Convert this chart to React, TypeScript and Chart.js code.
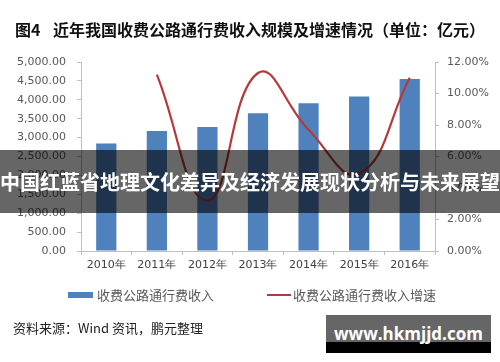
import React, { useEffect, useRef } from "react";
import { Chart, registerables } from "chart.js";

Chart.register(...registerables);

const categories = ["2010年", "2011年", "2012年", "2013年", "2014年", "2015年", "2016年"];
const revenue = [2845, 3173, 3280, 3644, 3910, 4088, 4548];
const growth: (number | null)[] = [null, 11.2, 3.2, 11.3, 7.7, 4.9, 11.0];
const leftTicks = [0, 500, 1000, 1500, 2000, 2500, 3000, 3500, 4000, 4500, 5000];
const rightTicks = [0, 2, 4, 6, 8, 10, 12];
const seriesNames = ["收费公路通行费收入", "收费公路通行费收入增速"];

const BAR_COLOR = "#4F81BD";
const LINE_COLOR = "#B5393A";
const AXIS_COLOR = "#BFBFBF";
const TICK_COLOR = "#595959";

export default function App() {
  const ref = useRef<HTMLCanvasElement | null>(null);

  useEffect(() => {
    if (!ref.current) return;
    const chart = new Chart(ref.current, {
      data: {
        labels: categories,
        datasets: [
          {
            type: "line",
            label: seriesNames[1],
            data: growth,
            yAxisID: "y1",
            borderColor: LINE_COLOR,
            borderWidth: 2.2,
            pointRadius: 0,
            tension: 0.45,
            fill: false,
            order: 0,
          },
          {
            type: "bar",
            label: seriesNames[0],
            data: revenue,
            yAxisID: "y",
            backgroundColor: BAR_COLOR,
            categoryPercentage: 1,
            barPercentage: 0.4,
            order: 1,
          },
        ],
      },
      options: {
        animation: false,
        responsive: false,
        maintainAspectRatio: false,
        layout: { padding: { top: 62, bottom: 81, left: 0, right: 0 } },
        plugins: { legend: { display: false }, tooltip: { enabled: false }, title: { display: false } },
        scales: {
          x: {
            type: "category",
            offset: true,
            grid: { display: true, drawOnChartArea: false, offset: true, tickLength: 4, color: AXIS_COLOR },
            border: { color: AXIS_COLOR },
            ticks: { color: "#404040", font: { family: "DejaVu Sans", size: 11 }, padding: 4, maxRotation: 0 },
            afterFit: (s: any) => { s.height = 30; },
          },
          y: {
            type: "linear",
            position: "left",
            min: 0,
            max: 5000,
            afterBuildTicks: (s: any) => { s.ticks = leftTicks.map((v) => ({ value: v })); },
            grid: { display: true, drawOnChartArea: false, tickLength: 4, color: AXIS_COLOR },
            border: { color: AXIS_COLOR },
            ticks: {
              color: TICK_COLOR,
              font: { family: "DejaVu Sans", size: 11 },
              padding: 11,
              callback: (v: any) => Number(v).toLocaleString("en-US", { minimumFractionDigits: 2, maximumFractionDigits: 2 }),
            },
            afterFit: (s: any) => { s.width = 81; },
          },
          y1: {
            type: "linear",
            position: "right",
            min: 0,
            max: 12,
            afterBuildTicks: (s: any) => { s.ticks = rightTicks.map((v) => ({ value: v })); },
            grid: { display: true, drawOnChartArea: false, tickLength: 4, color: AXIS_COLOR },
            border: { color: AXIS_COLOR },
            ticks: {
              color: TICK_COLOR,
              font: { family: "DejaVu Sans", size: 11 },
              padding: 8,
              callback: (v: any) => Number(v).toFixed(2) + "%",
            },
            afterFit: (s: any) => { s.width = 65; },
          },
        },
      },
    });
    return () => chart.destroy();
  }, []);

  const cjk = '"Noto Sans CJK SC", "Noto Sans", sans-serif';

  return (
    <div style={{ position: "absolute", left: 0, top: 0, width: 500, height: 362, background: "#fff", overflow: "hidden" }}>
      <canvas ref={ref} width={500} height={362} style={{ position: "absolute", left: 0, top: 0, width: 500, height: 362 }} />
      <div style={{ position: "absolute", left: 15, top: 18, fontFamily: cjk, fontWeight: 700, fontSize: 16, lineHeight: "22px", color: "#111", whiteSpace: "nowrap" }}>
        图4
      </div>
      <div style={{ position: "absolute", left: 53, top: 18, fontFamily: cjk, fontWeight: 700, fontSize: 16, lineHeight: "22px", color: "#111", whiteSpace: "nowrap" }}>
        近年我国收费公路通行费收入规模及增速情况（单位：亿元）
      </div>
      {/* legend */}
      <div style={{ position: "absolute", left: 68, top: 292, width: 25, height: 6, background: BAR_COLOR }} />
      <div style={{ position: "absolute", left: 97, top: 286, fontFamily: cjk, fontSize: 13, lineHeight: "18px", color: TICK_COLOR, whiteSpace: "nowrap" }}>
        {seriesNames[0]}
      </div>
      <div style={{ position: "absolute", left: 267, top: 294, width: 24, height: 2, background: LINE_COLOR }} />
      <div style={{ position: "absolute", left: 293, top: 286, fontFamily: cjk, fontSize: 13, lineHeight: "18px", color: TICK_COLOR, whiteSpace: "nowrap" }}>
        {seriesNames[1]}
      </div>
      {/* source */}
      <div style={{ position: "absolute", left: 13, top: 319, fontFamily: cjk, fontSize: 13, lineHeight: "18px", color: "#222", whiteSpace: "nowrap" }}>
        资料来源：Wind 资讯，鹏元整理
      </div>
      {/* watermark */}
      <div style={{ position: "absolute", left: 326, top: 315, width: 165, height: 27, background: "#666" }} />
      <div style={{ position: "absolute", left: 326, top: 342, width: 165, height: 11, background: "#000" }} />
      <div style={{ position: "absolute", left: 326, top: 323, width: 165, textAlign: "center", fontFamily: '"Open Sans", sans-serif', fontWeight: 700, fontSize: 17, lineHeight: "22px", color: "#fff", whiteSpace: "nowrap" }}>
        www.hkmjjd.com
      </div>
      {/* banner */}
      <div style={{ position: "absolute", left: 0, top: 150, width: 500, height: 63, background: "rgba(0,0,0,0.6)", color: "#fff", fontFamily: cjk, fontWeight: 700, fontSize: 20, lineHeight: "63px", textAlign: "center", whiteSpace: "nowrap" }}>
        中国红蓝省地理文化差异及经济发展现状分析与未来展望
      </div>
    </div>
  );
}
